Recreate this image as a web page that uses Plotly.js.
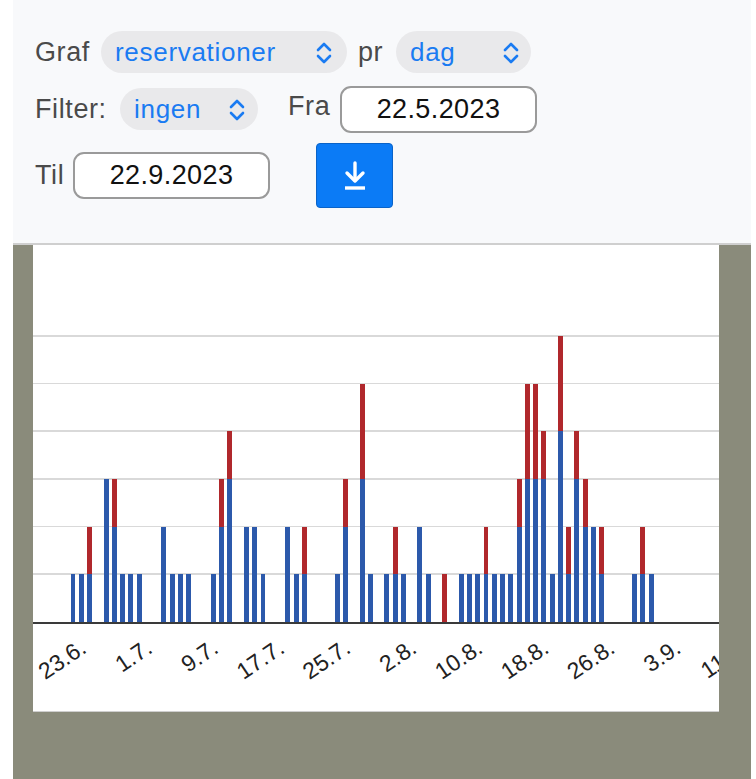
<!DOCTYPE html>
<html>
<head>
<meta charset="utf-8">
<script src="https://cdn.plot.ly/plotly-3.0.1.min.js"></script>
<style>
  html, body { margin: 0; padding: 0; background: #ffffff; width: 756px; height: 779px; overflow: hidden; font-family: "Liberation Sans", Arial, sans-serif; }
  .panel { position: absolute; left: 13px; top: 0; width: 738px; height: 243px; background: #f8f9fb; border-bottom: 2px solid #cfcfcf; }
  .grayarea { position: absolute; left: 13px; top: 245px; width: 738px; height: 534px; background: #8a8b7b; }
  .chartbox { position: absolute; left: 33px; top: 245px; width: 686px; height: 466px; background: #ffffff; border-bottom: 1px solid #cfcfcf; overflow: hidden; }
  .lbl { position: absolute; color: #4a4a4a; font-size: 27px; line-height: 30px; white-space: nowrap; letter-spacing: 0.6px; }
  .pill { position: absolute; background: #e9e9eb; border-radius: 22px; height: 42px; }
  .pill span { position: absolute; left: 14px; top: 6px; color: #1a7bf2; font-size: 26px; line-height: 30px; letter-spacing: 0.7px; }
  .pill svg { position: absolute; top: 11px; }
  .inp { position: absolute; background: #ffffff; border: 2px solid #9a9a9a; border-radius: 11px; box-sizing: border-box; height: 47px; text-align: center; color: #111; font-size: 27px; line-height: 43px; letter-spacing: 0.4px; }
  .btn { position: absolute; left: 316px; top: 143px; width: 77px; height: 65px; background: #0b7bf6; border-radius: 4px; border: 1px solid #0a63c8; box-sizing: border-box; }
</style>
</head>
<body>
<div class="panel"></div>
<div class="grayarea"></div>

<div class="lbl" style="left:35px; top:37px;">Graf</div>
<div class="pill" style="left:101px; top:31px; width:246px;">
  <span>reservationer</span>
  <svg style="left:214px" width="18" height="22" viewBox="0 0 18 22"><polyline points="3,8 9,2 15,8" fill="none" stroke="#1a7bf2" stroke-width="2.6" stroke-linecap="round" stroke-linejoin="round"/><polyline points="3,14 9,20 15,14" fill="none" stroke="#1a7bf2" stroke-width="2.6" stroke-linecap="round" stroke-linejoin="round"/></svg>
</div>
<div class="lbl" style="left:358px; top:37px;">pr</div>
<div class="pill" style="left:396px; top:31px; width:135px;">
  <span>dag</span>
  <svg style="left:106px" width="18" height="22" viewBox="0 0 18 22"><polyline points="3,8 9,2 15,8" fill="none" stroke="#1a7bf2" stroke-width="2.6" stroke-linecap="round" stroke-linejoin="round"/><polyline points="3,14 9,20 15,14" fill="none" stroke="#1a7bf2" stroke-width="2.6" stroke-linecap="round" stroke-linejoin="round"/></svg>
</div>

<div class="lbl" style="left:35px; top:94px;">Filter:</div>
<div class="pill" style="left:120px; top:88px; width:138px;">
  <span>ingen</span>
  <svg style="left:108px" width="18" height="22" viewBox="0 0 18 22"><polyline points="3,8 9,2 15,8" fill="none" stroke="#1a7bf2" stroke-width="2.6" stroke-linecap="round" stroke-linejoin="round"/><polyline points="3,14 9,20 15,14" fill="none" stroke="#1a7bf2" stroke-width="2.6" stroke-linecap="round" stroke-linejoin="round"/></svg>
</div>
<div class="lbl" style="left:288px; top:91px;">Fra</div>
<div class="inp" style="left:340px; top:86px; width:197px;">22.5.2023</div>

<div class="lbl" style="left:35px; top:160px;">Til</div>
<div class="inp" style="left:73px; top:152px; width:197px;">22.9.2023</div>
<div class="btn">
  <svg style="position:absolute; left:25px; top:17px;" width="26" height="30" viewBox="0 0 26 30">
    <line x1="13" y1="2" x2="13" y2="19" stroke="#fff" stroke-width="3.4" stroke-linecap="round"/>
    <polyline points="5,12 13,20 21,12" fill="none" stroke="#fff" stroke-width="3.4" stroke-linecap="round" stroke-linejoin="round"/>
    <line x1="3" y1="27" x2="23" y2="27" stroke="#fff" stroke-width="3.4"/>
  </svg>
</div>

<div class="chartbox"><div id="chart"></div></div>

<script>
// ---- data ----
const dates = [
  '2023-06-22','2023-06-23','2023-06-24','2023-06-26','2023-06-27','2023-06-28','2023-06-29','2023-06-30',
  '2023-07-03','2023-07-04','2023-07-05','2023-07-06','2023-07-09','2023-07-10','2023-07-11','2023-07-13',
  '2023-07-14','2023-07-15','2023-07-18','2023-07-19','2023-07-20','2023-07-24','2023-07-25','2023-07-27',
  '2023-07-28','2023-07-30','2023-07-31','2023-08-01','2023-08-03','2023-08-04','2023-08-06','2023-08-08',
  '2023-08-09','2023-08-10','2023-08-11','2023-08-12','2023-08-13','2023-08-14','2023-08-15','2023-08-16',
  '2023-08-17','2023-08-18','2023-08-19','2023-08-20','2023-08-21','2023-08-22','2023-08-23','2023-08-24',
  '2023-08-25','2023-08-29','2023-08-30','2023-08-31'
];
const blueValues = [
  1,1,1,3,2,1,1,1,
  2,1,1,1,1,2,3,2,
  2,1,2,1,1,1,2,3,
  1,1,1,1,2,1,0,1,
  1,1,1,1,1,1,2,3,
  3,3,1,4,1,3,2,2,
  1,1,1,1
];
const redValues = [
  0,0,1,0,1,0,0,0,
  0,0,0,0,0,1,1,0,
  0,0,0,0,1,0,1,2,
  0,0,1,0,0,0,1,0,
  0,0,1,0,0,0,1,2,
  2,1,0,2,1,1,1,0,
  1,0,1,0
];
const tickDates = ['2023-06-23','2023-07-01','2023-07-09','2023-07-17','2023-07-25','2023-08-02','2023-08-10','2023-08-18','2023-08-26','2023-09-03','2023-09-11'];
const tickLabels = ['23.6.','1.7.','9.7.','17.7.','25.7.','2.8.','10.8.','18.8.','26.8.','3.9.','11.9.'];
const gridValues = [0,1,2,3,4,5,6];

// ---- chart ----
const DAY = 86400000;
const day0 = Date.UTC(2023, 5, 22);
const pxPerDay = 8.26;
const plotWidth = 760;           // wider than the visible box; the box clips it (as in the reference)
function fmt(ms) { return new Date(ms).toISOString().replace('T', ' ').replace('Z', ''); }
const startMs = day0 - (40 / pxPerDay) * DAY;
const xStart = fmt(startMs);
const xEnd = fmt(startMs + (plotWidth / pxPerDay) * DAY);

const barWidth = 0.6 * DAY;
const traces = [
  { type: 'bar', x: dates, y: blueValues, width: barWidth, marker: { color: '#2c59ab', line: { width: 0 } }, name: 'blå', hoverinfo: 'skip' },
  { type: 'bar', x: dates, y: redValues, width: barWidth, marker: { color: '#b0282c', line: { width: 0 } }, name: 'rød', hoverinfo: 'skip' }
];
const layout = {
  width: plotWidth, height: 466,
  margin: { l: 0, r: 0, t: 0, b: 89, pad: 0 },
  barmode: 'stack',
  showlegend: false,
  paper_bgcolor: '#ffffff', plot_bgcolor: '#ffffff',
  xaxis: {
    type: 'date', range: [xStart, xEnd],
    tickmode: 'array', tickvals: tickDates, ticktext: tickLabels,
    tickangle: -34, ticks: '', ticklabelstandoff: 2,
    tickfont: { family: 'Liberation Sans, Arial, sans-serif', size: 23, color: '#222222' },
    showgrid: false, showline: true, linecolor: '#3a3a3a', linewidth: 2,
    zeroline: false, automargin: false, fixedrange: true
  },
  yaxis: {
    range: [0, 377 / 47.7],
    tickmode: 'array', tickvals: gridValues,
    showticklabels: false, ticks: '',
    showgrid: true, gridcolor: '#d9d9d9', gridwidth: 1.6,
    zeroline: false, showline: false, automargin: false, fixedrange: true
  }
};
Plotly.newPlot('chart', traces, layout, { displayModeBar: false, staticPlot: true });
</script>
</body>
</html>
